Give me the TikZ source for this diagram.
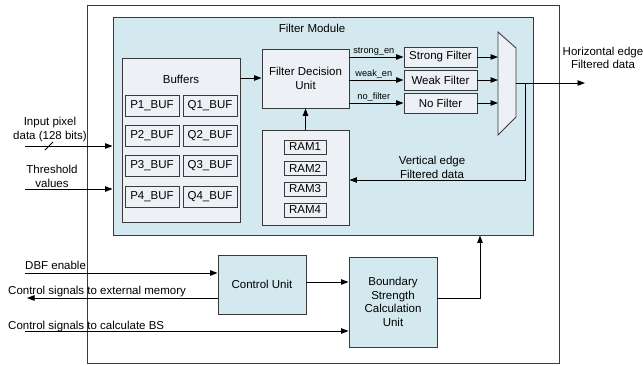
\documentclass[tikz,border=0pt]{standalone}
\usepackage{fontspec}
\setmainfont{Liberation Sans}
\usetikzlibrary{arrows.meta}
\definecolor{modfill}{HTML}{D3E9EF}
\definecolor{boxfill}{HTML}{EDF1F5}
\definecolor{edge}{HTML}{3A3A3A}
\tikzset{
  blk/.style={draw=edge, line width=0.9pt, inner sep=0pt, align=center,
    font=\fontsize{11.5}{13.5}\selectfont},
  modbox/.style={blk, fill=modfill},
  inbox/.style={blk, fill=boxfill},
  cell/.style={blk, fill=boxfill, minimum height=20pt},
  lbl/.style={inner sep=0pt, align=center, font=\fontsize{11.5}{13.5}\selectfont},
  sig/.style={inner sep=1pt, font=\fontsize{9.2}{10}\selectfont},
  arr/.style={line width=0.9pt, -{Triangle[length=7.5pt,width=5.5pt]}},
  wire/.style={line width=0.9pt}
}
\begin{document}
\begin{tikzpicture}[x=1pt,y=-1pt]
\useasboundingbox (0,0) rectangle (643,365);

% chip boundary and filter module
\node[blk, minimum width=472pt, minimum height=358pt] (outer) at (323,184) {};
\node[modbox, minimum width=420pt, minimum height=218pt] (fm) at (323,126) {};
\node[lbl] (fmt) at (312,28) {Filter Module};

% buffers
\node[inbox, minimum width=118pt, minimum height=164pt] (buf) at (181,140) {};
\node[lbl] (buft) at (181,79) {Buffers};
\node[cell, minimum width=54pt, minimum height=21pt] (p1) at (152,105.5) {P1\_BUF};
\node[cell, minimum width=54pt, minimum height=21pt] (q1) at (210,105.5) {Q1\_BUF};
\node[cell, minimum width=54pt, minimum height=21pt] (p2) at (152,135.5) {P2\_BUF};
\node[cell, minimum width=54pt, minimum height=21pt] (q2) at (210,135.5) {Q2\_BUF};
\node[cell, minimum width=54pt, minimum height=21pt] (p3) at (152,165.5) {P3\_BUF};
\node[cell, minimum width=54pt, minimum height=21pt] (q3) at (210,165.5) {Q3\_BUF};
\node[cell, minimum width=54pt, minimum height=21pt] (p4) at (152,196.5) {P4\_BUF};
\node[cell, minimum width=54pt, minimum height=21pt] (q4) at (210,196.5) {Q4\_BUF};

% decision unit and RAM bank
\node[inbox, minimum width=87pt, minimum height=59pt] (fdu) at (305.5,78.5) {Filter Decision\\Unit};
\node[inbox, minimum width=87pt, minimum height=95pt] (ramb) at (305.5,177.5) {};
\node[cell, minimum width=42pt, minimum height=14pt] (r1) at (305,147) {RAM1};
\node[cell, minimum width=42pt, minimum height=14pt] (r2) at (305,168) {RAM2};
\node[cell, minimum width=42pt, minimum height=14pt] (r3) at (305,189) {RAM3};
\node[cell, minimum width=42pt, minimum height=14pt] (r4) at (305,210) {RAM4};

% filters
\node[cell, minimum width=73pt] (sf) at (440.5,57) {Strong Filter};
\node[cell, minimum width=73pt] (wf) at (440.5,80) {Weak Filter};
\node[cell, minimum width=73pt] (nf) at (440.5,103) {No Filter};

% output multiplexer
\coordinate (m1) at (498,32);
\coordinate (m2) at (516,48);
\coordinate (m3) at (516,117);
\coordinate (m4) at (498,135);
\draw[draw=edge, line width=0.9pt, fill=boxfill] (m1) -- (m2) -- (m3) -- (m4) -- cycle;
\coordinate (muxl) at (498,83);
\coordinate (muxo) at (516,83);
\coordinate (hout) at (585,83);
\coordinate (fb) at (525,83);
\coordinate (fbc) at (525,180);

% control path
\node[modbox, minimum width=88pt, minimum height=59pt] (cu) at (262,284.5) {Control Unit};
\node[modbox, minimum width=88pt, minimum height=90pt] (bs) at (393,302) {Boundary\\Strength\\Calculation\\Unit};

% data path connectors
\coordinate (bufo) at (240,78);
\draw[arr] (bufo) -- (bufo -| fdu.west);
\draw[arr] (ramb.north) -- (fdu.south);
\draw[arr] (sf.west -| fdu.east) -- node[sig, above, pos=0.45] {strong\_en} (sf.west);
\draw[arr] (wf.west -| fdu.east) -- node[sig, above, pos=0.45] {weak\_en} (wf.west);
\draw[arr] (nf.west -| fdu.east) -- node[sig, above, pos=0.45] {no\_filter} (nf.west);
\draw[arr] (sf.east) -- (sf.east -| muxl);
\draw[arr] (wf.east) -- (wf.east -| muxl);
\draw[arr] (nf.east) -- (nf.east -| muxl);
\draw[arr] (muxo) -- (hout);
\draw[arr] (fb) -- (fbc) -- (fbc -| ramb.east);
\node[lbl] (vt) at (432,167.5) {Vertical edge\\Filtered data};
\node[lbl] (ht) at (603,58) {Horizontal edge\\Filtered data};

% primary inputs
\coordinate (inp) at (25,146);
\coordinate (thr) at (25,189);
\draw[arr] (inp) -- (inp -| fm.west);
\draw[arr] (thr) -- (thr -| fm.west);
\coordinate (sl1) at (45,150);
\coordinate (sl2) at (53,142);
\draw[wire] (sl1) -- (sl2);
\node[lbl] (inpt) at (50,129.5) {Input pixel\\data (128 bits)};
\node[lbl] (thrt) at (52,176.5) {Threshold\\values};

% control signals
\coordinate (dbf) at (25,273);
\coordinate (ext) at (27,298);
\coordinate (cbs) at (25,331);
\draw[arr] (dbf) -- (dbf -| cu.west);
\draw[arr] (ext -| cu.west) -- (ext);
\draw[arr] (cbs) -- (cbs -| bs.west);
\node[lbl, anchor=base west] (dbft) at (25,269) {DBF enable};
\node[lbl, anchor=base west] (extt) at (8,294) {Control signals to external memory};
\node[lbl, anchor=base west] (cbst) at (8,329) {Control signals to calculate BS};
\coordinate (cuo) at (306,282);
\draw[arr] (cuo) -- (cuo -| bs.west);
\coordinate (bso) at (480,298);
\draw[arr] (bso -| bs.east) -- (bso) -- (bso |- fm.south);
\end{tikzpicture}
\end{document}
